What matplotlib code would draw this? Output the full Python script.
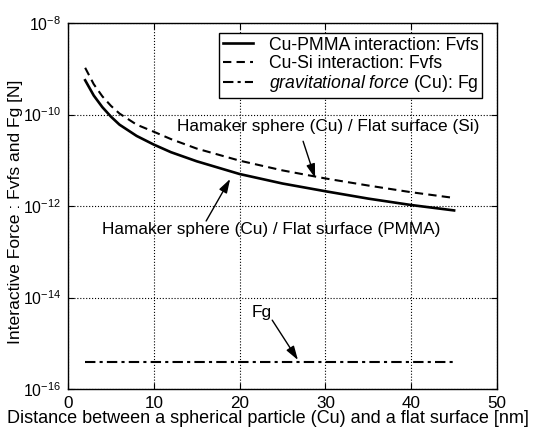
import matplotlib
matplotlib.use("Agg")
import matplotlib.pyplot as plt
from matplotlib.ticker import LogFormatterSciNotation, NullLocator, FixedLocator

plt.rcParams['font.family'] = ['Liberation Sans', 'DejaVu Sans']
plt.rcParams['mathtext.fontset'] = 'custom'
plt.rcParams['mathtext.rm'] = 'Liberation Sans'
plt.rcParams['mathtext.it'] = 'Liberation Sans:italic'
plt.rcParams['mathtext.bf'] = 'Liberation Sans:bold'

# ---- data ----
x_vals = [2, 3, 4, 5, 6, 8, 10, 12, 15, 20, 25, 30, 35, 40, 45]
f_pmma = [5.6e-10, 2.6e-10, 1.45e-10, 9.0e-11, 6.0e-11, 3.4e-11, 2.2e-11, 1.5e-11,
          9.5e-12, 5.0e-12, 3.1e-12, 2.1e-12, 1.45e-12, 1.05e-12, 8.0e-13]
f_si = [1.05e-9, 4.6e-10, 2.5e-10, 1.55e-10, 1.05e-10, 6.0e-11, 4.2e-11, 2.9e-11,
        1.8e-11, 9.8e-12, 6.0e-12, 4.0e-12, 2.8e-12, 2.0e-12, 1.5e-12]
x_fg = [2, 45]
f_g = [3.9e-16, 3.9e-16]

legend_labels = ["Cu-PMMA interaction: Fvfs",
                 "Cu-Si interaction: Fvfs",
                 r"$\mathit{gravitational\ force}$ (Cu): Fg"]
x_ticks = [0, 10, 20, 30, 40, 50]
y_ticks = [1e-16, 1e-14, 1e-12, 1e-10, 1e-8]

fig = plt.figure(figsize=(5.35, 4.3), dpi=100)
ax = fig.add_axes([68/535, 1-389/430, (497-68)/535, (389-23)/430])

ax.plot(x_vals, f_pmma, color='k', lw=1.9, ls='-', label=legend_labels[0])
ax.plot(x_vals, f_si, color='k', lw=1.5, ls=(0, (4, 2.5)), label=legend_labels[1])
ax.plot(x_fg, f_g, color='k', lw=1.5, ls=(0, (5, 2, 1.5, 2)), label=legend_labels[2])

ax.set_yscale('log')
ax.set_xlim(0, 50)
ax.set_ylim(1e-16, 1e-8)
ax.xaxis.set_major_locator(FixedLocator(x_ticks))
ax.yaxis.set_major_locator(FixedLocator(y_ticks))
ax.yaxis.set_minor_locator(NullLocator())
ax.yaxis.set_major_formatter(LogFormatterSciNotation())
ax.tick_params(direction='in', top=True, right=True, labelsize=12.3, length=4, width=0.8)
ax.tick_params(axis='y', pad=5, labelsize=11.3)
ax.tick_params(axis='x', pad=5)
ax.grid(True, ls=':', color='k', lw=0.8)
for s in ax.spines.values():
    s.set_linewidth(1.0)

ax.set_xlabel("Distance between a spherical particle (Cu) and a flat surface [nm]", fontsize=13.0)
ax.set_ylabel("Interactive Force : Fvfs and Fg [N]", fontsize=12.6)
ax.xaxis.set_label_coords(0.466, -0.058)
ax.yaxis.set_label_coords(-0.106, 0.485)

leg = ax.legend(loc='upper right', bbox_to_anchor=(482/535, 1-33/430),
                bbox_transform=fig.transFigure, borderaxespad=0, fontsize=12.7,
                fancybox=False, framealpha=1, edgecolor='k', handlelength=1.7,
                handletextpad=0.9, labelspacing=0.08, borderpad=0.2)
leg.get_frame().set_linewidth(1.0)

arr = dict(arrowstyle='-|>,head_length=0.7,head_width=0.22', color='k', lw=1.0,
           mutation_scale=12, shrinkA=0, shrinkB=0)
ax.text(30.3, 5.4e-11, "Hamaker sphere (Cu) / Flat surface (Si)", ha='center', va='center', fontsize=12.4)
ax.annotate("", xy=(28.8, 4.1e-12), xytext=(27.4, 2.6e-11), arrowprops=arr)
ax.text(23.7, 3.0e-13, "Hamaker sphere (Cu) / Flat surface (PMMA)", ha='center', va='center', fontsize=12.4)
ax.annotate("", xy=(18.9, 3.9e-12), xytext=(16.1, 4.7e-13), arrowprops=arr)
ax.text(22.6, 4.8e-15, "Fg", ha='center', va='center', fontsize=12.4)
ax.annotate("", xy=(26.8, 4.3e-16), xytext=(23.8, 3.2e-15), arrowprops=arr)

fig.savefig("out.png", dpi=100)
